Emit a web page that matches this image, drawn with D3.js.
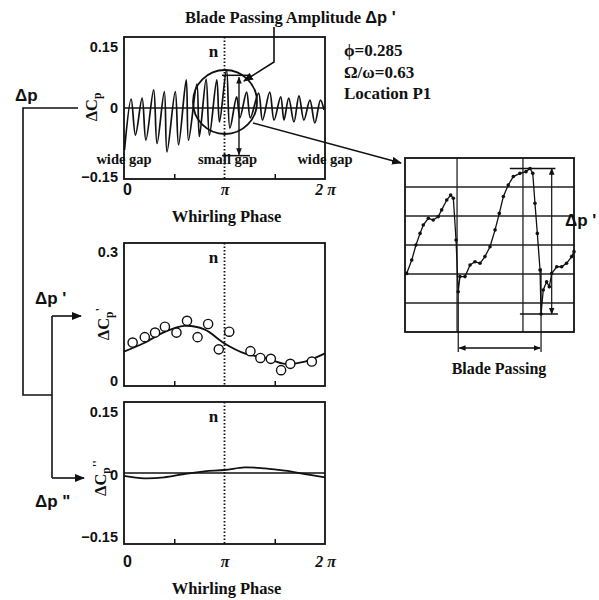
<!DOCTYPE html>
<html>
<head>
<meta charset="utf-8">
<script src="https://cdn.jsdelivr.net/npm/d3@7"></script>
<style>
body { margin: 0; background: #fff; }
svg text { font-family: "Liberation Serif", "Times New Roman", serif; font-weight: bold; fill: #111; }
svg .num text, svg text.num { font-family: "Liberation Sans", Arial, sans-serif; font-weight: bold; }
</style>
</head>
<body>
<svg id="fig" width="599" height="600"></svg>
<script>
var PI = Math.PI

// raw pressure trace (top), phase in units of pi
var wavePhase = [0.005, 0.071, 0.114, 0.180, 0.218, 0.295, 0.329, 0.401, 0.428, 0.510, 0.543, 0.619, 0.642,
  0.725, 0.750, 0.817, 0.850, 0.923, 0.950, 1.020, 1.054, 1.121, 1.153, 1.220, 1.257, 1.339, 1.378,
  1.450, 1.493, 1.559, 1.592, 1.639, 1.691, 1.741, 1.790, 1.850, 1.899, 1.955, 1.990]
var waveCp = [-0.090, 0.019, -0.058, 0.021, -0.069, 0.039, -0.076, 0.035, -0.094, 0.035, -0.079, 0.060, -0.069,
  0.051, -0.061, 0.062, -0.058, 0.060, -0.030, 0.081, -0.043, 0.024, -0.021, 0.034, -0.021, 0.032, -0.026,
  0.034, -0.026, 0.024, -0.026, 0.021, -0.030, 0.026, -0.026, 0.017, -0.032, 0.017, -0.004]

// blade passing amplitude (middle): fitted curve + measured points
var fitPhase = [0, 0.2, 0.4, 0.6, 0.8, 1.0, 1.2, 1.4, 1.6, 1.8, 2.0]
var fitCp = [0.076, 0.095, 0.119, 0.133, 0.125, 0.094, 0.072, 0.062, 0.049, 0.054, 0.072]
var circPhase = [0.086, 0.207, 0.309, 0.407, 0.522, 0.627, 0.732, 0.837, 0.943, 1.047, 1.258, 1.357, 1.461, 1.563, 1.655, 1.869]
var circCp = [0.096, 0.108, 0.118, 0.131, 0.118, 0.144, 0.108, 0.137, 0.081, 0.120, 0.077, 0.062, 0.060, 0.035, 0.049, 0.054]

// whirl-frequency component (bottom)
var harmPhase = [0, 0.2, 0.4, 0.6, 0.8, 1.0, 1.2, 1.4, 1.6, 1.8, 2.0]
var harmCp = [-0.007, -0.0127, -0.0103, -0.0024, 0.004, 0.0072, 0.0136, 0.011, 0.0055, -0.0024, -0.0103]

// enlarged blade passing detail (inset), time 0..1, value in grid rows 0..6
var insetT = [0.010, 0.040, 0.065, 0.089, 0.108, 0.138, 0.167, 0.197, 0.217, 0.247, 0.270, 0.286, 0.302, 0.315,
  0.325, 0.355, 0.385, 0.414, 0.444, 0.473, 0.503, 0.533, 0.558, 0.582, 0.611, 0.641, 0.680, 0.716, 0.740,
  0.756, 0.769, 0.783, 0.799, 0.805, 0.818, 0.838, 0.854, 0.868, 0.898, 0.927, 0.956, 0.986, 1.0]
var insetV = [2.02, 2.48, 3.00, 3.40, 3.69, 3.92, 3.86, 3.98, 4.21, 4.55, 4.72, 4.61, 3.17, 1.39,
  1.91, 1.91, 2.31, 2.42, 2.37, 2.60, 2.94, 3.52, 4.09, 4.67, 5.07, 5.36, 5.47, 5.53, 5.64,
  5.47, 4.44, 3.40, 2.14, 0.62, 1.45, 1.73, 1.56, 2.02, 2.25, 2.25, 2.37, 2.60, 2.77]
var insetGridT = [0.308, 0.698]
var insetGridV = [1, 2, 3, 4, 5]

var phaseTicks = [0, PI, 2 * PI]
var phaseLabels = ['0', 'π', '2 π']
var minorTicks = [PI / 2, 3 * PI / 2]
var gapLabels = [{p: 0, t: 'wide gap'}, {p: PI, t: 'small gap'}, {p: 2 * PI, t: 'wide gap'}]
var condLines = ['ϕ=0.285', 'Ω/ω=0.63', 'Location  P1']

var svg = d3.select('#fig')
var defs = svg.append('defs')
defs.append('marker').attr('id', 'ah').attr('viewBox', '0 0 10 8').attr('refX', 9).attr('refY', 4)
  .attr('markerWidth', 10).attr('markerHeight', 8).attr('markerUnits', 'userSpaceOnUse').attr('orient', 'auto-start-reverse')
  .append('path').attr('d', 'M0,0L10,4L0,8z').attr('fill', '#111')
defs.append('marker').attr('id', 'ahs').attr('viewBox', '0 0 10 8').attr('refX', 9).attr('refY', 4)
  .attr('markerWidth', 7).attr('markerHeight', 6).attr('markerUnits', 'userSpaceOnUse').attr('orient', 'auto-start-reverse')
  .append('path').attr('d', 'M0,0L10,4L0,8z').attr('fill', '#111')

var x = d3.scaleLinear().domain([0, 2 * PI]).range([124, 325])
var yTop = d3.scaleLinear().domain([-0.152, 0.152]).range([179, 37])
var yMid = d3.scaleLinear().domain([0, 0.316]).range([386, 243])
var yBot = d3.scaleLinear().domain([-0.17, 0.17]).range([544, 402])

function panel(y, ticks, fmt, shifts) {
  var g = svg.append('g')
  var ya = g.append('g').attr('class', 'num').attr('transform', 'translate(' + x.range()[0] + ',0)')
    .call(d3.axisLeft(y).tickValues(ticks).tickSize(0).tickPadding(6).tickFormat(fmt))
  ya.select('.domain').remove()
  ya.selectAll('text').attr('font-size', 14.5).attr('fill', '#111').attr('dy', function(d, i){ return (0.32 + shifts[i]) + 'em' })
  var mt = g.append('g').attr('transform', 'translate(0,' + y.range()[0] + ')')
    .call(d3.axisBottom(x).tickValues(minorTicks).tickSize(-5).tickFormat(''))
  mt.select('.domain').remove()
  mt.selectAll('line').attr('stroke', '#111').attr('stroke-width', 1.5)
  g.append('line').attr('x1', x(PI)).attr('x2', x(PI)).attr('y1', y.range()[1]).attr('y2', y.range()[0])
    .attr('stroke', '#111').attr('stroke-width', 1.8).attr('stroke-dasharray', '1.5,2')
  g.append('text').attr('x', x(PI) - 11).attr('y', y.range()[1] + 20).attr('text-anchor', 'middle').attr('font-size', 17).text('n')
  g.append('rect').attr('x', x.range()[0]).attr('y', y.range()[1])
    .attr('width', x.range()[1] - x.range()[0]).attr('height', y.range()[0] - y.range()[1])
    .attr('fill', 'none').attr('stroke', '#111').attr('stroke-width', 1.8)
  return g
}

function phaseAxis(y, pad) {
  var a = svg.append('g').attr('transform', 'translate(0,' + y.range()[0] + ')')
    .call(d3.axisBottom(x).tickValues(phaseTicks).tickSize(0).tickPadding(pad).tickFormat(function(d, i){ return phaseLabels[i] }))
  a.select('.domain').remove()
  a.selectAll('text').attr('font-size', 16).attr('fill', '#111')
    .attr('dx', function(d, i){ return i == 0 ? 3 : 0 })
    .style('font-family', function(d, i){ return i == 0 ? '"Liberation Sans", Arial, sans-serif' : null })
    .style('font-style', function(d, i){ return i == 0 ? null : 'italic' })
  svg.append('text').attr('x', x(PI) + 2).attr('y', y.range()[0] + pad + 38).attr('text-anchor', 'middle')
    .attr('font-size', 16.5).text('Whirling Phase')
}

function yLabel(cx, cy, primes) {
  var t = svg.append('text').attr('transform', 'translate(' + cx + ',' + cy + ') rotate(-90)')
    .attr('text-anchor', 'middle').attr('font-size', 16.5).attr('dy', '0.35em')
  t.append('tspan').text('ΔC')
  t.append('tspan').attr('font-size', 11.5).attr('dy', 4).text('p')
  if (primes) t.append('tspan').attr('dy', -9).attr('font-size', 13).text(primes)
}

// ---- top panel
var gTop = panel(yTop, [-0.15, 0, 0.15], function(d){ return d == 0 ? '0' : d3.format('.2f')(d) }, [-0.1, 0, 0.62])
gTop.append('line').attr('x1', x(0)).attr('x2', x(2 * PI)).attr('y1', yTop(0)).attr('y2', yTop(0))
  .attr('stroke', '#111').attr('stroke-width', 1.5)
var waveLine = d3.line().curve(d3.curveCatmullRom.alpha(0.5)).x(function(d){ return x(d[0] * PI) }).y(function(d){ return yTop(d[1]) })
gTop.append('path').attr('d', waveLine(d3.zip(wavePhase, waveCp)))
  .attr('fill', 'none').attr('stroke', '#111').attr('stroke-width', 1.7).attr('stroke-linejoin', 'round')
phaseAxis(yTop, 5)
yLabel(91, 107, '')
gapLabels.forEach(function(d){
  svg.append('text').attr('x', x(d.p) + (d.p == PI ? 3 : 0)).attr('y', 164).attr('text-anchor', 'middle')
    .attr('font-size', 14.5).text(d.t)
})

// magnifier circle, amplitude bracket
svg.append('circle').attr('cx', 225).attr('cy', 102).attr('r', 32).attr('fill', 'none').attr('stroke', '#111').attr('stroke-width', 1.8)
var bTop = yTop(0.07), bBot = yTop(-0.102)
svg.append('line').attr('x1', 222).attr('x2', 249).attr('y1', bTop).attr('y2', bTop).attr('stroke', '#111').attr('stroke-width', 1.5)
svg.append('line').attr('x1', 222).attr('x2', 250).attr('y1', bBot).attr('y2', bBot).attr('stroke', '#111').attr('stroke-width', 1.5)
svg.append('line').attr('x1', 239).attr('x2', 239).attr('y1', bTop + 2).attr('y2', bBot - 1)
  .attr('stroke', '#111').attr('stroke-width', 1.4).attr('marker-start', 'url(#ahs)').attr('marker-end', 'url(#ahs)')

// title annotation
var title = svg.append('text').attr('x', 185).attr('y', 23).attr('font-size', 16.5)
title.append('tspan').text('Blade Passing Amplitude  ')
title.append('tspan').style('font-family', '"Liberation Sans", Arial, sans-serif').text('Δp \'')
svg.append('path').attr('d', d3.line()([[274, 27], [274, 62], [244, 81]]))
  .attr('fill', 'none').attr('stroke', '#111').attr('stroke-width', 1.6).attr('marker-end', 'url(#ah)')

condLines.forEach(function(s, i){
  svg.append('text').attr('x', 344).attr('y', 56 + i * 21.5).attr('font-size', 17).text(s)
})

// line from circle to inset
svg.append('line').attr('x1', 253).attr('y1', 123).attr('x2', 401).attr('y2', 163)
  .attr('stroke', '#111').attr('stroke-width', 1.5).attr('marker-end', 'url(#ah)')

// ---- inset
var xi = d3.scaleLinear().domain([0, 1]).range([405, 574])
var yi = d3.scaleLinear().domain([0, 6]).range([332, 158])
var gi = svg.append('g')
gi.selectAll('line.gv').data(insetGridT).join('line').attr('class', 'gv')
  .attr('x1', function(d){ return xi(d) }).attr('x2', function(d){ return xi(d) })
  .attr('y1', yi(0)).attr('y2', yi(6)).attr('stroke', '#222').attr('stroke-width', 1.3)
gi.selectAll('line.gh').data(insetGridV).join('line').attr('class', 'gh')
  .attr('x1', xi(0)).attr('x2', xi(1)).attr('y1', function(d){ return yi(d) }).attr('y2', function(d){ return yi(d) })
  .attr('stroke', '#222').attr('stroke-width', 1.3)
gi.append('rect').attr('x', xi(0)).attr('y', yi(6)).attr('width', xi(1) - xi(0)).attr('height', yi(0) - yi(6))
  .attr('fill', 'none').attr('stroke', '#111').attr('stroke-width', 1.8)
var insetData = d3.zip(insetT, insetV)
gi.append('path').attr('d', d3.line().x(function(d){ return xi(d[0]) }).y(function(d){ return yi(d[1]) })(insetData))
  .attr('fill', 'none').attr('stroke', '#111').attr('stroke-width', 1.3)
gi.selectAll('circle').data(insetData).join('circle')
  .attr('cx', function(d){ return xi(d[0]) }).attr('cy', function(d){ return yi(d[1]) }).attr('r', 1.8).attr('fill', '#111')

var pkV = d3.max(insetV), lowV = d3.min(insetV)
gi.append('line').attr('x1', xi(0.62)).attr('x2', xi(0.89)).attr('y1', yi(pkV)).attr('y2', yi(pkV)).attr('stroke', '#111').attr('stroke-width', 1.4)
gi.append('line').attr('x1', xi(0.68)).attr('x2', xi(0.905)).attr('y1', yi(lowV)).attr('y2', yi(lowV)).attr('stroke', '#111').attr('stroke-width', 1.4)
gi.append('line').attr('x1', xi(0.868)).attr('x2', xi(0.868)).attr('y1', yi(pkV)).attr('y2', yi(lowV))
  .attr('stroke', '#111').attr('stroke-width', 1.2).attr('marker-start', 'url(#ahs)').attr('marker-end', 'url(#ahs)')
gi.append('text').attr('x', 565).attr('y', 226).attr('font-size', 17).style('font-family', '"Liberation Sans", Arial, sans-serif').text('Δp \'')

var bpA = insetT[13], bpB = insetT[33]
gi.append('line').attr('x1', xi(bpA)).attr('x2', xi(bpA)).attr('y1', yi(insetV[13])).attr('y2', 352).attr('stroke', '#111').attr('stroke-width', 1.2)
gi.append('line').attr('x1', xi(bpB)).attr('x2', xi(bpB)).attr('y1', yi(2.2)).attr('y2', 352).attr('stroke', '#111').attr('stroke-width', 1.2)
gi.append('line').attr('x1', xi(bpA) + 1).attr('x2', xi(bpB) - 1).attr('y1', 348).attr('y2', 348)
  .attr('stroke', '#111').attr('stroke-width', 1.5).attr('marker-start', 'url(#ahs)').attr('marker-end', 'url(#ahs)')
gi.append('text').attr('x', 499).attr('y', 374).attr('text-anchor', 'middle').attr('font-size', 16).text('Blade Passing')

// ---- middle panel
panel(yMid, [0, 0.3], function(d){ return d == 0 ? '0' : '0.3' }, [-0.35, 0.1])
var fitLine = d3.line().curve(d3.curveCatmullRom).x(function(d){ return x(d[0] * PI) }).y(function(d){ return yMid(d[1]) })
svg.append('path').attr('d', fitLine(d3.zip(fitPhase, fitCp))).attr('fill', 'none').attr('stroke', '#111').attr('stroke-width', 1.8)
svg.append('g').selectAll('circle').data(d3.zip(circPhase, circCp)).join('circle')
  .attr('cx', function(d){ return x(d[0] * PI) }).attr('cy', function(d){ return yMid(d[1]) }).attr('r', 4.6)
  .attr('fill', '#fff').attr('stroke', '#111').attr('stroke-width', 1.4)
yLabel(103, 324, '\'')

// ---- bottom panel
panel(yBot, [-0.15, 0, 0.15], function(d){ return d == 0 ? '0' : d3.format('.2f')(d) }, [0.1, 0.1, 0.1])
svg.append('line').attr('x1', x(0)).attr('x2', x(2 * PI)).attr('y1', yBot(0)).attr('y2', yBot(0)).attr('stroke', '#111').attr('stroke-width', 1.6)
var harmLine = d3.line().curve(d3.curveCatmullRom).x(function(d){ return x(d[0] * PI) }).y(function(d){ return yBot(d[1]) })
svg.append('path').attr('d', harmLine(d3.zip(harmPhase, harmCp))).attr('fill', 'none').attr('stroke', '#111').attr('stroke-width', 1.8)
phaseAxis(yBot, 12)
yLabel(100, 478, '\'\'')

// ---- left connector (Δp split into Δp' and Δp'')
var conn = svg.append('g').attr('fill', 'none').attr('stroke', '#111').attr('stroke-width', 1.6)
conn.append('path').attr('d', d3.line()([[78, yTop(0)], [23, yTop(0)], [23, 395], [52, 395]]))
conn.append('path').attr('d', d3.line()([[52, 316], [52, 478]]))
conn.append('path').attr('d', d3.line()([[52, 316], [81, 316]])).attr('marker-end', 'url(#ah)')
conn.append('path').attr('d', d3.line()([[52, yBot(0) + 5], [84, yBot(0) + 5]])).attr('marker-end', 'url(#ah)')
var lab = [{x: 15, y: 101, t: 'Δp'}, {x: 35, y: 304, t: 'Δp \''}, {x: 35, y: 507, t: 'Δp "'}]
lab.forEach(function(d){
  svg.append('text').attr('x', d.x).attr('y', d.y).attr('font-size', 17)
    .style('font-family', '"Liberation Sans", Arial, sans-serif').text(d.t)
})
</script>
</body>
</html>
